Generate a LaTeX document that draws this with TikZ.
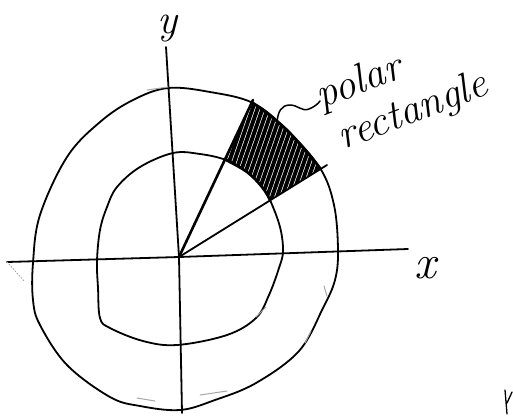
\documentclass[tikz,border=0pt]{standalone}
\usepackage{fontspec}
\begin{document}
\begin{tikzpicture}[x=1pt,y=-1pt,
  sketch/.style={line width=1.8pt,line cap=round,line join=round},
  heavy/.style={line width=2.6pt,line cap=round,line join=round},
  faint/.style={line width=1pt,gray!70,line cap=round},
  hatchline/.style={line width=3.9pt,line cap=round},
  lbl/.style={inner sep=0pt,font=\itshape}]
\useasboundingbox (0,0) rectangle (513,416);

% named points
\coordinate (O) at (179,257);
\coordinate (xL) at (7,262);
\coordinate (xR) at (408,249);
\coordinate (yT) at (166,47);
\coordinate (yB) at (182,413);
\coordinate (up) at (253,100);
\coordinate (lo) at (327,165);
\coordinate (rectTop) at (277,122);
\coordinate (tildeEnd) at (320,101);

% hatching of the polar rectangle
\begin{scope}
  \clip (O) -- (290,21) -- (401,119) -- cycle;
  \clip plot[smooth cycle,tension=0.6] coordinates {(168,88) (210,92) (253,103) (287,130) (320,168) (334,205) (338,250) (335,280) (323,308) (299,351) (256,383) (215,400) (180,410) (140,406) (110,397) (67,365) (40,325) (33,300) (33,263) (40,215) (67,157) (100,122) (133,100)};
  \foreach \s in {244,249,...,372} {
    \draw[hatchline] (\s,90) -- (\s-45,220);
  }
  \fill[white] plot[smooth cycle,tension=0.6] coordinates {(173,153) (200,154) (226,160) (247,172) (262,187) (270,200) (280,227) (283,251) (279,268) (269,295) (256,318) (227,335) (177,345) (143,341) (110,328) (100,318) (98,288) (97,261) (100,230) (107,207) (117,187) (140,167)};
\end{scope}

% outer circle
\draw[sketch] plot[smooth cycle,tension=0.6] coordinates {(168,88) (210,92) (253,103) (287,130) (320,168) (334,205) (338,250) (335,280) (323,308) (299,351) (256,383) (215,400) (180,410) (140,406) (110,397) (67,365) (40,325) (33,300) (33,263) (40,215) (67,157) (100,122) (133,100)};
\draw[heavy] plot[smooth,tension=0.6] coordinates {(253,103) (287,130) (320,168)};
% inner circle
\draw[sketch] plot[smooth cycle,tension=0.6] coordinates {(173,153) (200,154) (226,160) (247,172) (262,187) (270,200) (280,227) (283,251) (279,268) (269,295) (256,318) (227,335) (177,345) (143,341) (110,328) (100,318) (98,288) (97,261) (100,230) (107,207) (117,187) (140,167)};
\draw[heavy] plot[smooth,tension=0.6] coordinates {(226,160) (247,172) (262,187) (270,200)};

% axes
\draw[sketch] (xL) -- (O) -- (xR);
\draw[sketch] (yT) -- (O) -- (yB);

% rays
\draw[heavy] (O) -- (up);
\draw[sketch] (O) -- (lo);

% connector to label
\draw[sketch,line width=1.5pt] (rectTop) .. controls (278,112) and (281,105) .. (290,105)
  .. controls (298,105) and (302,112) .. (309,109)
  .. controls (314,107) and (318,104) .. (tildeEnd);

% labels
\node[lbl,anchor=base west,rotate=21,align=left,font=\itshape\fontsize{42}{46}\selectfont] (polarrect) at (338,152) {polar\\\hspace*{6pt}rectangle};
\node[lbl] (ylab) at (167,29) {\fontsize{42}{42}\selectfont y};
\node[lbl] (xlab) at (425,268) {\fontsize{48}{48}\selectfont x};

% sketchy extra strokes
\draw[faint,dotted] (xL) -- (25,282);
\draw[faint] (137,398) -- (155,401);
\draw[faint] (200,395) -- (227,391);
\draw[faint] (324,286) -- (327,296);
\draw[faint] (305,343) -- (311,331);
\draw[faint] (256,317) -- (266,307);
\draw[faint] (147,90) -- (168,87);
\draw[sketch,line width=1.3pt] (505,390) -- (507,414) (507,403) -- (512,392);
\end{tikzpicture}
\end{document}
